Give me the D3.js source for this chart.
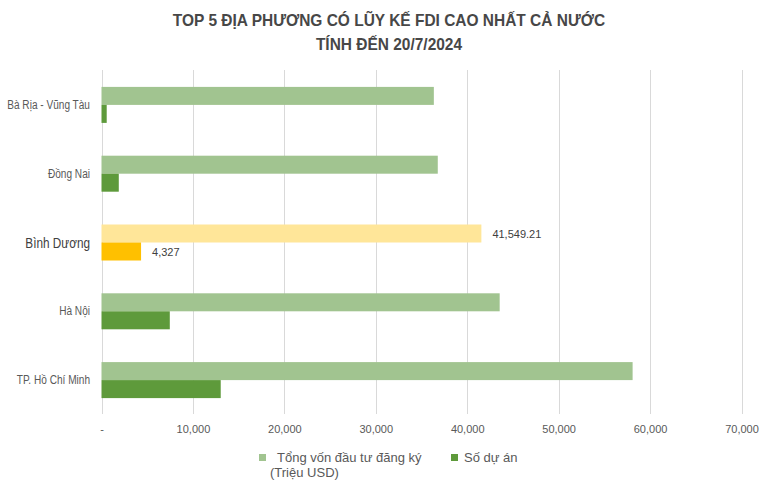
<!DOCTYPE html>
<html>
<head>
<meta charset="utf-8">
<script src="https://cdn.jsdelivr.net/npm/d3@7/dist/d3.min.js"></script>
<style>
  html, body { margin: 0; padding: 0; background: #fff; }
  svg { display: block; }
</style>
</head>
<body>
<svg id="chart" width="776" height="494"></svg>
<script>
const titleLines = ["TOP 5 ĐỊA PHƯƠNG CÓ LŨY KẾ FDI CAO NHẤT CẢ NƯỚC", "TÍNH ĐẾN 20/7/2024"];
const categories = ["Bà Rịa - Vũng Tàu", "Đồng Nai", "Bình Dương", "Hà Nội", "TP. Hồ Chí Minh"];
const capitalValues = [36350, 36780, 41549.21, 43550, 58090];
const projectValues = [570, 1890, 4327, 7470, 13040];
const seriesNames = ["Tổng vốn đầu tư đăng ký", "(Triệu USD)", "Số dự án"];
const tickValues = [0, 10000, 20000, 30000, 40000, 50000, 60000, 70000];
const highlight = "Bình Dương";

const colors = { capital: "#a1c490", project: "#5e9a3b", capitalHi: "#ffe699", projectHi: "#ffc000" };

const svg = d3.select("#chart");
const font = "'Liberation Sans', Arial, sans-serif";

// condense text horizontally (the original uses a narrow face)
function condense(sel, factor) {
  sel.each(function () {
    const w = this.getComputedTextLength();
    d3.select(this).attr("textLength", w * factor).attr("lengthAdjust", "spacingAndGlyphs");
  });
}

const x = d3.scaleLinear().domain([0, 70000]).range([101.5, 741.5]);
const y = d3.scaleBand().domain(categories).range([70.5, 414.5]).paddingInner(0).paddingOuter(0);
const barH = 18;

// title
const tt = svg.append("g").selectAll("text").data(titleLines).join("text")
  .attr("x", 389).attr("y", (d, i) => 26 + i * 24)
  .attr("text-anchor", "middle")
  .style("font-family", font)
  .style("font-weight", "bold").style("font-size", "17px").style("fill", "#474747")
  .text(d => d);
condense(tt, 0.91);

// gridlines
svg.append("g").selectAll("line").data(tickValues).join("line")
  .attr("x1", d => Math.round(x(d)) + 0.5).attr("x2", d => Math.round(x(d)) + 0.5)
  .attr("y1", 70).attr("y2", 414)
  .attr("stroke", "#d9d9d9").attr("stroke-width", 1);

// bars
const g = svg.append("g");
categories.forEach((c, i) => {
  const cy = y(c) + y.bandwidth() / 2;
  const hi = c === highlight;
  g.append("rect").attr("x", x(0)).attr("y", cy - barH)
    .attr("width", x(capitalValues[i]) - x(0)).attr("height", barH)
    .attr("fill", hi ? colors.capitalHi : colors.capital);
  g.append("rect").attr("x", x(0)).attr("y", cy)
    .attr("width", x(projectValues[i]) - x(0)).attr("height", barH)
    .attr("fill", hi ? colors.projectHi : colors.project);
  if (hi) {
    g.append("text").attr("x", x(capitalValues[i]) + 11).attr("y", cy - barH / 2 + 4)
      .style("font-family", font).style("font-size", "11px").style("fill", "#404040")
      .text(d3.format(",.2f")(capitalValues[i]));
    g.append("text").attr("x", x(projectValues[i]) + 11).attr("y", cy + barH / 2 + 4)
      .style("font-family", font).style("font-size", "11px").style("fill", "#404040")
      .text(d3.format(",")(projectValues[i]));
  }
});

// category labels
const cl = svg.append("g").selectAll("text").data(categories).join("text")
  .attr("x", 90).attr("y", d => y(d) + y.bandwidth() / 2 + (d === highlight ? 5 : 4))
  .attr("text-anchor", "end")
  .style("font-family", font)
  .style("font-size", d => d === highlight ? "14px" : "12px")
  .style("fill", d => d === highlight ? "#404040" : "#595959")
  .text(d => d);
condense(cl, 0.84);

// x axis tick labels
const xAxis = d3.axisBottom(x).tickValues(tickValues)
  .tickFormat(d => d === 0 ? "-" : d3.format(",")(d)).tickSize(0).tickPadding(0);
const ax = svg.append("g").attr("transform", "translate(0,425)").call(xAxis);
ax.select(".domain").remove();
ax.selectAll("text").style("font-family", font).style("font-size", "11px").style("fill", "#595959");

// legend
const leg = svg.append("g").style("font-family", font).style("font-size", "13px").style("fill", "#595959");
leg.append("rect").attr("x", 259).attr("y", 454).attr("width", 7).attr("height", 7).attr("fill", colors.capital);
leg.append("text").attr("x", 277).attr("y", 462).text(seriesNames[0]);
leg.append("text").attr("x", 270).attr("y", 477).text(seriesNames[1]);
leg.append("rect").attr("x", 451).attr("y", 454).attr("width", 7).attr("height", 7).attr("fill", colors.project);
leg.append("text").attr("x", 464).attr("y", 462).text(seriesNames[2]);
</script>
</body>
</html>
